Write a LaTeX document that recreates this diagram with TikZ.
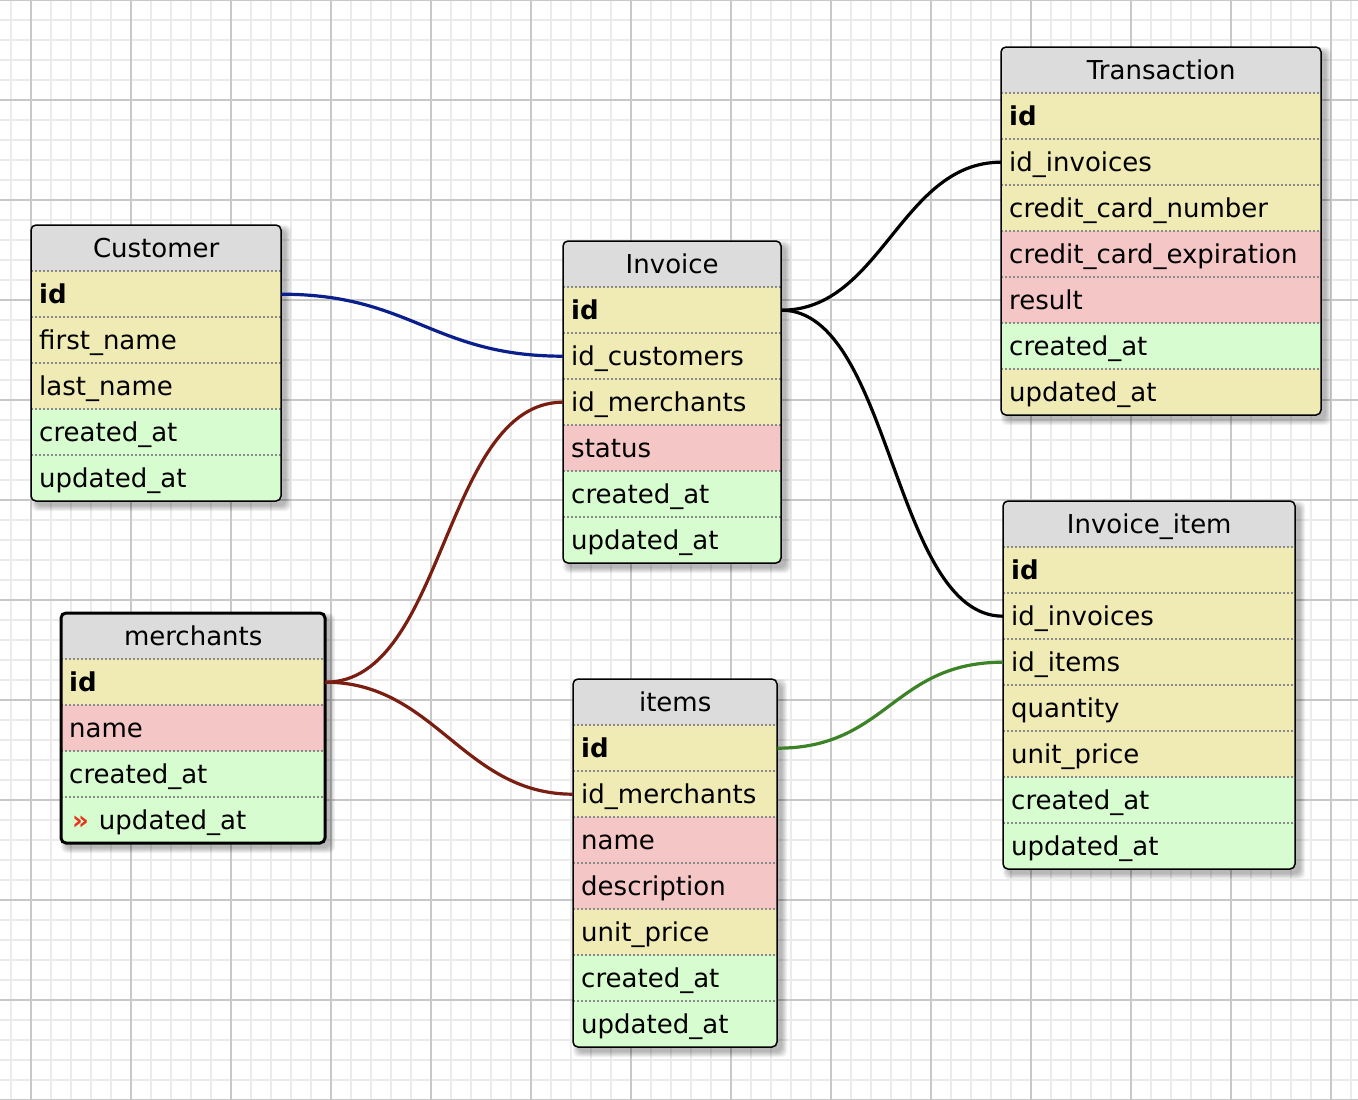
\documentclass[tikz,border=0pt]{standalone}
\usepackage{fontspec}
\setmainfont{DejaVu Sans}
\usetikzlibrary{calc}
\definecolor{hdrc}{HTML}{DCDCDC}
\definecolor{yel}{HTML}{F0EBB4}
\definecolor{pnk}{HTML}{F5C6C6}
\definecolor{grn}{HTML}{D6FCCF}
\definecolor{minorc}{HTML}{EBEBEB}
\definecolor{majorc}{HTML}{C8C8C8}
\definecolor{sepc}{HTML}{8A8A8A}
\definecolor{lblue}{HTML}{0A1E8C}
\definecolor{lred}{HTML}{7B1E12}
\definecolor{lgreen}{HTML}{3C8226}
\definecolor{markred}{HTML}{E8321E}
\tikzset{
  cell/.style={rectangle, inner xsep=8pt, inner ysep=0pt, minimum height=46pt,
    text height=21pt, text depth=3pt, align=left, anchor=north west,
    font=\fontsize{26pt}{30pt}\selectfont},
  hdrcell/.style={cell, fill=hdrc, align=center},
  sepline/.style={sepc, line width=1.5pt, dash pattern=on 2pt off 2pt},
  link/.style={line width=3.2pt},
  minorline/.style={minorc, line width=1.5pt},
  majorline/.style={majorc, line width=1.5pt},
}
% #1 name, #2 x, #3 y, #4 width, #5 number of rows, #6 title, #7 rows, #8 border width
\newcommand\ertable[8]{%
  \pgfmathsetmacro\erH{46*(#5+1)}%
  \pgfmathsetmacro\erTW{#4-16}%
  \foreach \k in {0,1,...,5}{%
    \fill[black, opacity=0.05, rounded corners=6pt]
      ({#2pt+5pt-\k pt},{-#3pt-5pt+\k pt}) rectangle ({#2pt+#4pt+5pt+\k pt},{-#3pt-\erH pt-5pt-\k pt});}
  \begin{scope}
    \clip[rounded corners=5pt] (#2pt,-#3pt) rectangle ({#2pt+#4pt},{-#3pt-\erH pt});
    \node[hdrcell, text width=\erTW pt] (#1) at (#2pt,-#3pt) {#6};
    \foreach \c/\t [count=\i] in {#7}{%
      \node[cell, fill=\c, text width=\erTW pt] (#1-\i) at ({#2pt},{-#3pt-46pt*\i}) {\t};}
    \foreach \c/\t [count=\i] in {#7}{%
      \draw[sepline] ({#2pt},{-#3pt-46pt*\i}) -- ++(#4pt,0);}
  \end{scope}
  \draw[line width=#8, rounded corners=5pt] (#2pt,-#3pt) rectangle ({#2pt+#4pt},{-#3pt-\erH pt});
}
\begin{document}
\begin{tikzpicture}
\useasboundingbox (0,0) rectangle (1358pt,-1100pt);
\fill[white] (0,0) rectangle (1358pt,-1100pt);
% grid
\foreach \x in {11,31,...,1351} \draw[minorline] (\x pt,0) -- (\x pt,-1100pt);
\foreach \y in {0,20,...,1100} \draw[minorline] (0,-\y pt) -- (1358pt,-\y pt);
\foreach \x in {31,131,...,1331} \draw[majorline] (\x pt,0) -- (\x pt,-1100pt);
\foreach \y in {0,100,...,1100} \draw[majorline] (0,-\y pt) -- (1358pt,-\y pt);

\ertable{cust}{31}{225}{250}{5}{Customer}{yel/\textbf{id}, yel/first\_name, yel/last\_name, grn/created\_at, grn/updated\_at}{1.5pt}
\ertable{inv}{563}{241}{218}{6}{Invoice}{yel/\textbf{id}, yel/id\_customers, yel/id\_merchants, pnk/status, grn/created\_at, grn/updated\_at}{1.5pt}
\ertable{trans}{1001}{47}{320}{7}{Transaction}{yel/\textbf{id}, yel/id\_invoices, yel/credit\_card\_number, pnk/credit\_card\_expiration, pnk/result, grn/created\_at, yel/updated\_at}{1.5pt}
\ertable{invitem}{1003}{501}{292}{7}{Invoice\_item}{yel/\textbf{id}, yel/id\_invoices, yel/id\_items, yel/quantity, yel/unit\_price, grn/created\_at, grn/updated\_at}{1.5pt}
\ertable{merch}{61}{613}{264}{4}{merchants}{yel/\textbf{id}, pnk/name, grn/created\_at, grn/{\hspace{3pt}{\color{markred}\textbf{»}}\hspace{10pt}updated\_at}}{3pt}
\ertable{items}{573}{679}{204}{7}{items}{yel/\textbf{id}, yel/id\_merchants, pnk/name, pnk/description, yel/unit\_price, grn/created\_at, grn/updated\_at}{1.5pt}

% connectors
\draw[link, lblue] (cust-1.east) .. controls +(130pt,0) and +(-130pt,0) .. (inv-2.west);
\draw[link, black] (inv-1.east) .. controls +(100pt,0) and +(-100pt,0) .. (trans-2.west);
\draw[link, black] (inv-1.east) .. controls +(110pt,0) and +(-110pt,0) .. (invitem-2.west);
\draw[link, lred] (merch-1.east) .. controls +(120pt,0) and +(-120pt,0) .. (inv-3.west);
\draw[link, lred] (merch-1.east) .. controls +(110pt,0) and +(-110pt,0) .. (items-2.west);
\draw[link, lgreen] (items-1.east) .. controls +(110pt,0) and +(-110pt,0) .. (invitem-3.west);
\end{tikzpicture}
\end{document}
